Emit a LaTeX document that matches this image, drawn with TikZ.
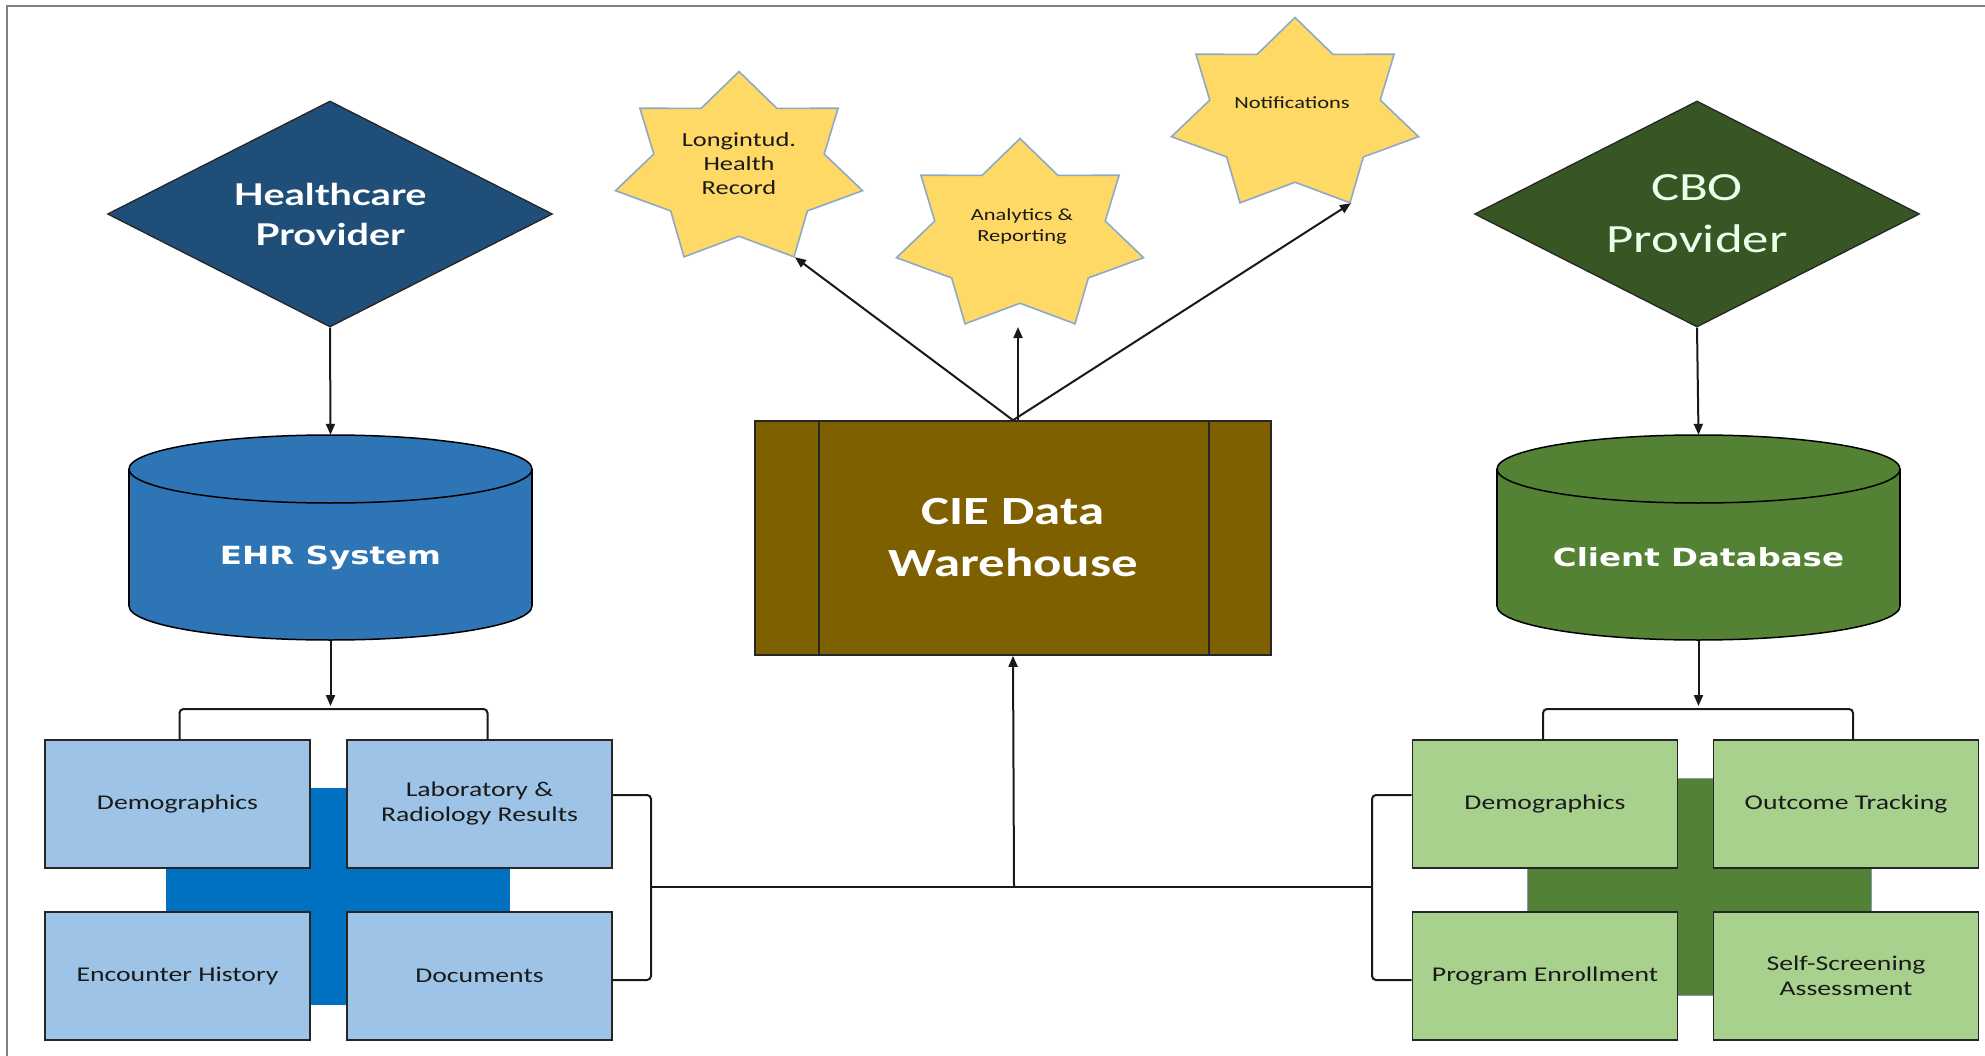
\documentclass[tikz,border=0pt]{standalone}
\usepackage{graphicx}
\usepackage{fontspec}
\setmainfont{Carlito}
\newfontfamily\latof{Lato}
\newfontfamily\dejaf{DejaVu Sans}
\usetikzlibrary{shapes.geometric,arrows.meta,calc}
\definecolor{hpblue}{HTML}{1F4E79}
\definecolor{cbogreen}{HTML}{375623}
\definecolor{ehrblue}{HTML}{2E75B6}
\definecolor{dbgreen}{HTML}{548235}
\definecolor{lboxc}{HTML}{9DC3E6}
\definecolor{lcenter}{HTML}{0070C0}
\definecolor{rboxc}{HTML}{A9D18E}
\definecolor{rcenter}{HTML}{538135}
\definecolor{whbrown}{HTML}{7F6000}
\definecolor{staryel}{HTML}{FFD966}
\definecolor{staredge}{HTML}{8EA9C8}
\definecolor{txtdark}{HTML}{1A1A1A}
\newcommand\wx[1]{\scalebox{1.32}[1]{#1}}
\newcommand\cylshape[4]{% cx, top, bottom, colour
  \draw[fill=#4, line width=1.5pt] (#1,#3-34) ellipse [x radius=201.5pt, y radius=34pt];
  \fill[#4] (#1-201.5,#2+34) rectangle (#1+201.5,#3-34);
  \draw[line width=1.5pt] (#1-201.5,#2+34) -- (#1-201.5,#3-34);
  \draw[line width=1.5pt] (#1+201.5,#2+34) -- (#1+201.5,#3-34);
  \draw[fill=#4, line width=1.5pt] (#1,#2+34) ellipse [x radius=201.5pt, y radius=34pt];
}
\tikzset{
  frame/.style={draw=black!50, line width=2pt},
  conn/.style={draw=black!90, line width=2pt},
  arr/.style={conn, -{Triangle[length=11pt,width=9pt]}},
  brk/.style={conn, rounded corners=4pt},
  dia/.style={diamond, aspect=1.97, draw=black!85, line width=1.3pt, minimum width=445pt, minimum height=226pt, inner sep=0pt, align=center, text=white},
  cylbox/.style={rectangle, minimum width=403pt, minimum height=205pt, inner sep=0pt},
  boxc/.style={rectangle, draw=black!85, line width=1.8pt, minimum width=265pt, minimum height=128pt, inner sep=0pt, align=center, font=\fontsize{21pt}{25pt}\selectfont, text=txtdark},
  starbox/.style={star, star points=7, star point ratio=1.45, minimum size=195pt, inner sep=0pt, fill=staryel, draw=staredge, line width=1.6pt, transform shape},
  startext/.style={align=center, text=txtdark, inner sep=0pt},
  whbox/.style={rectangle, draw=black!85, line width=1.6pt, fill=whbrown, minimum width=516pt, minimum height=234pt, inner sep=0pt, align=center, text=white, font=\bfseries\fontsize{40pt}{52pt}\selectfont}
}
\begin{document}
\begin{tikzpicture}[x=1pt,y=-1pt]
\useasboundingbox (0,0) rectangle (1985,1056);
\fill[white] (0,0) rectangle (1985,1056);
\draw[frame] (1985,6) -- (7,6) -- (7,1056);

% providers
\node[dia, fill=hpblue, font=\latof\bfseries\fontsize{30pt}{40pt}\selectfont] (hp) at (330,214) {\wx{Healthcare}\\\wx{Provider}};
\node[dia, fill=cbogreen, text=white!92!green, font=\fontsize{40pt}{52pt}\selectfont] (cbo) at (1697,214) {\wx{CBO}\\\wx{Provider}};

% cylinders
\cylshape{330.5}{435}{640}{ehrblue}
\cylshape{1698.5}{435}{640}{dbgreen}
\node[cylbox, label={[yshift=-20pt, text=white, font=\dejaf\bfseries\fontsize{25pt}{30pt}\selectfont]center:\scalebox{1.3}[1]{EHR System}}] (ehr) at (330.5,537.5) {};
\node[cylbox, label={[yshift=-20pt, text=white, font=\dejaf\bfseries\fontsize{25pt}{30pt}\selectfont]center:\scalebox{1.3}[1]{Client Database}}] (cdb) at (1698.5,537.5) {};

% warehouse
\node[whbox] (wh) at (1013,538) {\wx{CIE Data}\\\wx{Warehouse}};
\draw[line width=1.6pt, black!85] ([xshift=65pt]wh.north west) -- ([xshift=65pt]wh.south west);
\draw[line width=1.6pt, black!85] ([xshift=-63pt]wh.north east) -- ([xshift=-63pt]wh.south east);

% stars
\begin{scope}[shift={(739,169)}, xscale=1.3]
  \node[starbox] (s1) at (0,0) {};
\end{scope}
\begin{scope}[shift={(1020,236)}, xscale=1.3]
  \node[starbox] (s2) at (0,0) {};
\end{scope}
\begin{scope}[shift={(1295,115)}, xscale=1.3]
  \node[starbox] (s3) at (0,0) {};
\end{scope}
\node[startext, font=\fontsize{20pt}{24pt}\selectfont] (s1t) at (739,164) {\wx{Longintud.}\\\wx{Health}\\\wx{Record}};
\node[startext, font=\fontsize{17pt}{21pt}\selectfont] (s2t) at (1022,227) {\wx{Analytics \&}\\\wx{Reporting}};
\node[startext, font=\fontsize{17pt}{21pt}\selectfont] (s3t) at (1292,103) {\wx{Notifications}};
\coordinate (s2b) at (1018,327);

% background crosses
\fill[lcenter] (166,788) rectangle (510,1005);
\draw[fill=rcenter, draw=lboxc!80!black, line width=0.8pt] (1527,778) rectangle (1871,995);

% boxes left
\node[boxc, fill=lboxc] (lb1) at (177.5,804) {\wx{Demographics}};
\node[boxc, fill=lboxc] (lb2) at (479.5,804) {\wx{Laboratory \&}\\\wx{Radiology Results}};
\node[boxc, fill=lboxc] (lb3) at (177.5,976) {\wx{Encounter History}};
\node[boxc, fill=lboxc] (lb4) at (479.5,976) {\wx{Documents}};
% boxes right
\node[boxc, fill=rboxc] (rb1) at (1545,804) {\wx{Demographics}};
\node[boxc, fill=rboxc] (rb2) at (1846,804) {\raisebox{4pt}{\wx{Outcome Tracking}}};
\node[boxc, fill=rboxc] (rb3) at (1545,976) {\wx{Program Enrollment}};
\node[boxc, fill=rboxc] (rb4) at (1846,976) {\wx{Self-Screening}\\\wx{Assessment}};

% connectors
\coordinate (lbt) at (330.5,709);
\coordinate (rbt) at (1698.5,709);
\coordinate (jl) at (651,887);
\coordinate (jr) at (1372,887);
\coordinate (jm) at (1014,887);

\draw[arr] (hp.south) -- (ehr.north);
\draw[arr] (cbo.south) -- (cdb.north);
\draw[arr, shorten >=3pt] (ehr.south) -- (lbt);
\draw[arr, shorten >=3pt] (cdb.south) -- (rbt);
\draw[brk] ([xshift=2pt]lb1.north) |- (lbt) -| ([xshift=8pt]lb2.north);
\draw[brk] ([xshift=-2pt]rb1.north) |- (rbt) -| ([xshift=7pt]rb2.north);
\draw[brk] ([yshift=9pt]lb2.east) -| (jl) |- ([yshift=-4pt]lb4.east);
\draw[brk] ([yshift=9pt]rb1.west) -| (jr) |- ([yshift=-4pt]rb3.west);
\draw[conn] (jl) -- (jr);
\draw[arr] (jm) -- (wh.south);

\draw[arr] (wh.north) -- (s1.-64.29);
\draw[arr] (wh.north -| s2b) -- (s2b);
\draw[arr] (wh.north) -- (s3.-64.29);
\end{tikzpicture}
\end{document}
